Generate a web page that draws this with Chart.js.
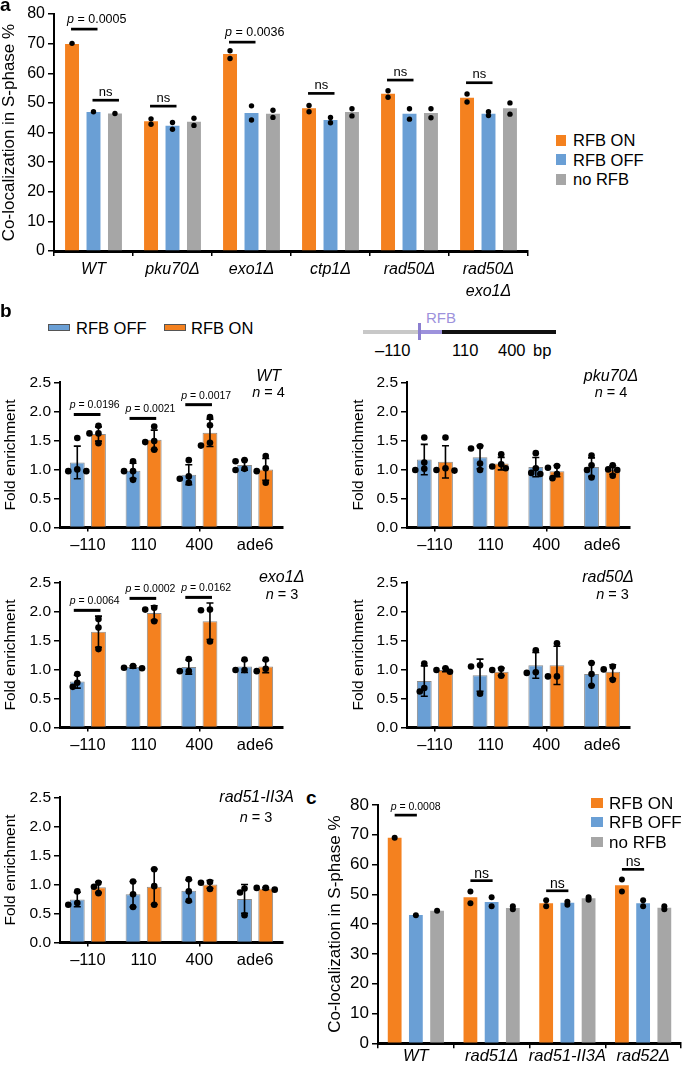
<!DOCTYPE html>
<html>
<head>
<meta charset="utf-8">
<script src="https://cdn.jsdelivr.net/npm/chart.js@4.4.1/dist/chart.umd.min.js"></script>
<style>
  body { margin: 0; background: #fff; }
  #page { position: relative; width: 685px; height: 1068px; overflow: hidden; font-family: 'Liberation Sans', Arial, sans-serif; color: #000; }
  canvas { position: absolute; }
  .t { position: absolute; white-space: nowrap; line-height: 1; }
  .box { position: absolute; }
</style>
</head>
<body>
<div id="page">
  <canvas id="chartA" width="540" height="300" style="left:0;top:0"></canvas>
  <canvas id="chartWT" width="290" height="190" style="left:0;top:370px"></canvas>
  <canvas id="chartPku" width="290" height="190" style="left:347px;top:370px"></canvas>
  <canvas id="chartExo" width="290" height="190" style="left:0;top:570px"></canvas>
  <canvas id="chartRad50" width="290" height="190" style="left:347px;top:570px"></canvas>
  <canvas id="chartRad51" width="290" height="190" style="left:0;top:785px"></canvas>
  <canvas id="chartC" width="365" height="278" style="left:320px;top:790px"></canvas>
</div>
<script>
var FONT = "'Liberation Sans', Arial, sans-serif";
var ORANGE = '#F4811F', BLUE = '#6A9FD5', GRAY = '#A6A6A6';

// ---- panel a: co-localization in S-phase (%)
var aStrains = ['WT', 'pku70\u0394', 'exo1\u0394', 'ctp1\u0394', 'rad50\u0394', ['rad50\u0394', 'exo1\u0394']];
var aRfbOn = [69.9, 43.8, 66.5, 48.2, 53.1, 51.7];
var aRfbOff = [46.9, 42.3, 46.6, 44.2, 46.3, 46.3];
var aNoRfb = [46.4, 43.6, 46.3, 46.9, 46.6, 48.2];
var aRfbOnDots = [[70.1], [42.8, 44.6], [67.6, 65.0], [49.1, 47.0], [54.1, 51.9], [53.0, 50.3]];
var aRfbOffDots = [[47.0], [43.4, 41.1], [49.0, 44.2], [45.1, 43.3], [48.0, 44.5], [47.0, 45.7]];
var aNoRfbDots = [[46.4], [44.8, 42.4], [47.5, 45.1], [48.0, 45.6], [48.0, 45.0], [50.0, 46.2]];
var aSigCats = [0, 0, 1, 2, 3, 4, 5];
var aSigPairs = [[0, 1], [1, 2], [0, 1], [0, 1], [0, 1], [0, 1], [0, 1]];
var aSigLevels = [74.9, 50.9, 48.9, 70.5, 53.2, 57.7, 56.8];
var aSigLabels = ['p = 0.0005', 'ns', 'ns', 'p = 0.0036', 'ns', 'ns', 'ns'];

// ---- panel b: fold enrichment per site
var bSites = ['\u2013110', '110', '400', 'ade6'];

var bWtOff = [1.12, 0.975, 0.91, 1.075];
var bWtOn = [1.61, 1.51, 1.63, 1.0];
var bWtOffDots = [[1.54, 0.97, 1.0, 0.97], [1.14, 0.97, 0.97, 0.82], [1.16, 0.88, 0.84, 0.77], [1.16, 1.14, 1.01, 0.99]];
var bWtOnDots = [[1.75, 1.62, 1.62, 1.45], [1.74, 1.49, 1.47, 1.34], [1.90, 1.76, 1.46, 1.41], [1.23, 1.02, 0.97, 0.77]];
var bWtSigLevels = [1.946, 1.878, 2.115];
var bWtSigLabels = ['p = 0.0196', 'p = 0.0021', 'p = 0.0017'];

var bPkuOff = [1.17, 1.21, 1.04, 1.04];
var bPkuOn = [1.13, 1.10, 0.97, 0.99];
var bPkuOffDots = [[1.55, 1.12, 1.01, 0.99], [1.40, 1.36, 1.10, 0.99], [1.28, 1.02, 0.94, 0.92], [1.24, 1.07, 0.99, 0.86]];
var bPkuOnDots = [[1.55, 1.02, 0.99, 0.98], [1.26, 1.09, 1.05, 1.02], [1.06, 1.03, 0.92, 0.85], [1.07, 1.0, 0.99, 0.89]];

var bExoOff = [0.79, 1.04, 1.04, 1.05];
var bExoOn = [1.65, 1.97, 1.83, 1.05];
var bExoOffDots = [[0.92, 0.77, 0.70], [1.06, 1.03, 1.02], [1.18, 0.97, 0.97], [1.17, 0.99, 0.99]];
var bExoOnDots = [[1.87, 1.72, 1.35], [2.06, 2.03, 1.83], [2.03, 2.02, 1.48], [1.17, 1.01, 0.97]];
var bExoSigLevels = [2.017, 2.223, 2.24];
var bExoSigLabels = ['p = 0.0064', 'p = 0.0002', 'p = 0.0162'];

var bRad50Off = [0.80, 0.90, 1.07, 0.92];
var bRad50On = [0.99, 0.96, 1.07, 0.96];
var bRad50OffDots = [[1.10, 0.68, 0.62], [1.07, 1.05, 0.58], [1.33, 0.95, 0.94], [1.11, 0.92, 0.72]];
var bRad50OnDots = [[1.02, 0.99, 0.96], [1.01, 0.99, 0.89], [1.45, 0.88, 0.88], [1.05, 1.0, 0.82]];

var bRad51Off = [0.74, 0.83, 0.89, 0.75];
var bRad51On = [0.95, 0.96, 1.0, 0.93];
var bRad51OffDots = [[0.88, 0.68, 0.65], [1.05, 0.83, 0.61], [1.09, 0.88, 0.72], [0.93, 0.86, 0.47]];
var bRad51OnDots = [[1.03, 0.96, 0.85], [1.26, 0.97, 0.65], [1.04, 1.03, 0.92], [0.94, 0.94, 0.91]];

// ---- panel c: co-localization in S-phase (%)
var cStrains = ['WT', 'rad51\u0394', 'rad51-II3A', 'rad52\u0394'];
var cRfbOn = [69.0, 49.0, 47.0, 53.1];
var cRfbOff = [43.1, 47.4, 47.2, 47.0];
var cNoRfb = [44.5, 45.4, 48.7, 45.5];
var cRfbOnDots = [[69.0], [51.0, 47.0], [48.0, 46.0], [55.0, 51.0]];
var cRfbOffDots = [[43.0], [49.0, 46.0], [46.5, 47.5], [48.0, 46.0]];
var cNoRfbDots = [[44.5], [46.0, 45.0], [49.0, 48.2], [46.0, 45.0]];
var cSigCats = [0, 1, 2, 3];
var cSigLevels = [76.6, 54.6, 51.2, 58.4];
var cSigLabels = ['p = 0.0008', 'ns', 'ns', 'ns'];

Chart.defaults.font.family = FONT;
Chart.defaults.color = '#000';

function stdev(v) {
  var m = 0, s = 0;
  v.forEach(function (x) { m += x; });
  m /= v.length;
  v.forEach(function (x) { s += (x - m) * (x - m); });
  return Math.sqrt(s / (v.length - 1));
}

// draws error bars (SD of replicates), replicate dots and significance bars
var marksPlugin = {
  id: 'marks',
  afterDatasetsDraw: function (chart) {
    var o = chart.options.plugins.marks;
    var ctx = chart.ctx;
    var yScale = chart.scales.y;
    ctx.save();
    chart.data.datasets.forEach(function (ds, d) {
      var meta = chart.getDatasetMeta(d);
      meta.data.forEach(function (bar, i) {
        var pts = o.dots[d][i];
        if (o.errorBars && pts.length > 1) {
          var sd = stdev(pts);
          var yTop = yScale.getPixelForValue(ds.data[i] + sd);
          var yBot = yScale.getPixelForValue(ds.data[i] - sd);
          ctx.strokeStyle = '#000';
          ctx.lineWidth = 1.6;
          ctx.beginPath();
          ctx.moveTo(bar.x, yTop); ctx.lineTo(bar.x, yBot);
          ctx.moveTo(bar.x - 3.5, yTop); ctx.lineTo(bar.x + 3.5, yTop);
          ctx.moveTo(bar.x - 3.5, yBot); ctx.lineTo(bar.x + 3.5, yBot);
          ctx.stroke();
        }
        var placed = [];
        var offs = [0, -o.step, o.step, -2 * o.step, 2 * o.step];
        pts.slice().sort(function (p, q) { return q - p; }).forEach(function (v) {
          var py = yScale.getPixelForValue(v);
          var ox = 0;
          for (var k = 0; k < offs.length; k++) {
            var ok = placed.every(function (p) { return Math.hypot(p.x - offs[k], p.y - py) >= o.gap; });
            if (ok) { ox = offs[k]; break; }
          }
          placed.push({ x: ox, y: py });
          ctx.fillStyle = '#000';
          ctx.beginPath();
          ctx.arc(bar.x + ox, py, o.r, 0, Math.PI * 2);
          ctx.fill();
        });
      });
    });
    var s = o.sig;
    if (s) {
      s.cats.forEach(function (cat, k) {
        var pair = s.pairs[k];
        var xa = chart.getDatasetMeta(pair[0]).data[cat].x + o.sigDx[0];
        var xb = chart.getDatasetMeta(pair[1]).data[cat].x + o.sigDx[1];
        var yy = yScale.getPixelForValue(s.levels[k]);
        ctx.strokeStyle = '#000';
        ctx.lineWidth = o.sigWidth;
        ctx.beginPath(); ctx.moveTo(xa, yy); ctx.lineTo(xb, yy); ctx.stroke();
        var text = s.labels[k];
        ctx.fillStyle = '#000';
        ctx.textBaseline = 'middle';
        if (text.charAt(0) === 'p') {
          var x0 = xa - 4, ty = yy - o.pUp;
          ctx.textAlign = 'left';
          ctx.font = 'italic ' + o.pSize + 'px ' + FONT;
          ctx.fillText('p', x0, ty);
          var w = ctx.measureText('p').width;
          ctx.font = o.pSize + 'px ' + FONT;
          ctx.fillText(text.slice(1), x0 + w, ty);
        } else {
          ctx.textAlign = 'center';
          ctx.font = o.nsSize + 'px ' + FONT;
          ctx.fillText(text, (xa + xb) / 2, yy - o.nsUp);
        }
      });
    }
    ctx.restore();
  }
};

function barChart(id, o) {
  return new Chart(document.getElementById(id), {
    type: 'bar',
    data: { labels: o.labels, datasets: o.datasets },
    options: {
      responsive: false,
      animation: false,
      devicePixelRatio: 1,
      layout: { padding: o.padding },
      datasets: { bar: { categoryPercentage: o.catPct, barPercentage: o.barPct } },
      plugins: { legend: { display: false }, tooltip: { enabled: false }, marks: o.marks },
      scales: {
        x: {
          offset: true,
          grid: { offset: o.xGridOffset, drawOnChartArea: false, drawTicks: true, tickLength: o.xTickLen, color: o.xTickColor, lineWidth: 1.5 },
          border: { color: '#000', width: 3 },
          ticks: { font: o.xFont, padding: o.xPad, maxRotation: 0, autoSkip: false },
          afterFit: function (sc) { sc.height = o.xH; }
        },
        y: {
          min: 0,
          max: o.yMax,
          ticks: { stepSize: o.yStep, font: o.yFont, padding: 3, callback: o.yFmt },
          grid: { drawOnChartArea: false, tickLength: 6, color: '#000', lineWidth: 1.5 },
          border: { color: '#000', width: 2 },
          title: { display: true, text: o.yTitle, font: o.yTitleFont, padding: { top: o.yTitlePad, bottom: 0 } },
          afterFit: function (sc) { sc.width = o.yW; }
        }
      }
    },
    plugins: [marksPlugin]
  });
}

// panel a
barChart('chartA', {
  labels: aStrains,
  datasets: [
    { label: 'RFB ON', data: aRfbOn, backgroundColor: ORANGE },
    { label: 'RFB OFF', data: aRfbOff, backgroundColor: BLUE },
    { label: 'no RFB', data: aNoRfb, backgroundColor: GRAY }
  ],
  padding: { left: 0, top: 14, right: 12, bottom: 0 },
  catPct: 0.815, barPct: 0.65,
  xGridOffset: true, xTickLen: 5, xTickColor: '#000', xPad: 3, xH: 49,
  xFont: { size: 16, style: 'italic', lineHeight: 1.35 },
  yMax: 80, yStep: 10, yFont: { size: 16 }, yW: 54,
  yFmt: function (v) { return v; },
  yTitle: 'Co-localization in S-phase %', yTitleFont: { size: 17, lineHeight: 1 }, yTitlePad: 0.5,
  marks: {
    dots: [aRfbOnDots, aRfbOffDots, aNoRfbDots], r: 2.7, gap: 0, step: 4, errorBars: false,
    sig: { cats: aSigCats, pairs: aSigPairs, levels: aSigLevels, labels: aSigLabels },
    sigDx: [-1, 4], sigWidth: 2.7, pSize: 12.5, nsSize: 13, pUp: 10, nsUp: 8
  }
});

// panel b
function foldChart(id, off, on, offDots, onDots, levels, labels, titlePad) {
  var sig = null;
  if (levels) {
    sig = { cats: [0, 1, 2], pairs: [[0, 1], [0, 1], [0, 1]], levels: levels, labels: labels };
  }
  return barChart(id, {
    labels: bSites,
    datasets: [
      { label: 'RFB OFF', data: off, backgroundColor: BLUE, borderColor: '#8c8c8c', borderWidth: 1 },
      { label: 'RFB ON', data: on, backgroundColor: ORANGE, borderColor: '#8c8c8c', borderWidth: 1 }
    ],
    padding: { left: 0, top: 11, right: 7, bottom: 0 },
    catPct: 0.76, barPct: 0.7,
    xGridOffset: false, xTickLen: 4,
    xTickColor: function (c) { return c.index % 2 === 0 ? '#000' : 'rgba(0,0,0,0)'; },
    xPad: 4, xH: 32.5,
    xFont: { size: 16.5 },
    yMax: 2.5, yStep: 0.5, yFont: { size: 15.5 }, yW: 60,
    yFmt: function (v) { return v.toFixed(1); },
    yTitle: 'Fold enrichment', yTitleFont: { size: 15.5, lineHeight: 1 }, yTitlePad: titlePad,
    marks: {
      dots: [offDots, onDots], r: 3.3, gap: 5.5, step: 4.5, errorBars: true,
      sig: sig, sigDx: [-3.5, 2], sigWidth: 3, pSize: 10.5, nsSize: 12, pUp: 9, nsUp: 7
    }
  });
}
foldChart('chartWT', bWtOff, bWtOn, bWtOffDots, bWtOnDots, bWtSigLevels, bWtSigLabels, 3.25);
foldChart('chartPku', bPkuOff, bPkuOn, bPkuOffDots, bPkuOnDots, null, null, 3.5);
foldChart('chartExo', bExoOff, bExoOn, bExoOffDots, bExoOnDots, bExoSigLevels, bExoSigLabels, 3.25);
foldChart('chartRad50', bRad50Off, bRad50On, bRad50OffDots, bRad50OnDots, null, null, 3.5);
foldChart('chartRad51', bRad51Off, bRad51On, bRad51OffDots, bRad51OnDots, null, null, 3.25);

// panel c
barChart('chartC', {
  labels: cStrains,
  datasets: [
    { label: 'RFB ON', data: cRfbOn, backgroundColor: ORANGE },
    { label: 'RFB OFF', data: cRfbOff, backgroundColor: BLUE },
    { label: 'no RFB', data: cNoRfb, backgroundColor: GRAY }
  ],
  padding: { left: 0, top: 15, right: 4, bottom: 0 },
  catPct: 0.84, barPct: 0.65,
  xGridOffset: true, xTickLen: 5, xTickColor: '#000', xPad: 0, xH: 24.7,
  xFont: { size: 16.5, style: 'italic', lineHeight: 1 },
  yMax: 80, yStep: 10, yFont: { size: 17 }, yW: 58,
  yFmt: function (v) { return v; },
  yTitle: 'Co-localization in S-phase %', yTitleFont: { size: 17, lineHeight: 1 }, yTitlePad: 6.5,
  marks: {
    dots: [cRfbOnDots, cRfbOffDots, cNoRfbDots], r: 3, gap: 0, step: 4, errorBars: false,
    sig: { cats: cSigCats, pairs: [[0, 1], [0, 1], [0, 1], [0, 1]], levels: cSigLevels, labels: cSigLabels },
    sigDx: [0, 1], sigWidth: 2.7, pSize: 10.5, nsSize: 14, pUp: 8, nsUp: 7
  }
});

// ---- text and keys around the charts
var page = document.getElementById('page');
function put(html, x, y, size, css) {
  var el = document.createElement('div');
  el.className = 't';
  el.innerHTML = html;
  el.style.left = x + 'px';
  el.style.top = y + 'px';
  el.style.fontSize = size + 'px';
  el.style.transform = (css && css.center) ? 'translate(-50%,-50%)' : 'translate(0,-50%)';
  if (css && css.bold) el.style.fontWeight = 'bold';
  if (css && css.italic) el.style.fontStyle = 'italic';
  if (css && css.color) el.style.color = css.color;
  page.appendChild(el);
}
function rect(x, y, w, h, bg, border) {
  var el = document.createElement('div');
  el.className = 'box';
  el.style.left = x + 'px';
  el.style.top = y + 'px';
  el.style.width = w + 'px';
  el.style.height = h + 'px';
  el.style.background = bg;
  if (border) { el.style.border = border; el.style.boxSizing = 'border-box'; }
  page.appendChild(el);
}

// panel letters
put('a', 0, 3.5, 19, { bold: true });
put('b', 0, 309.5, 19, { bold: true });
put('c', 306, 797, 19, { bold: true });

// legend a
rect(555.5, 135, 10.5, 10.5, ORANGE);
rect(555.5, 154.3, 10.5, 10.5, BLUE);
rect(555.5, 174, 10.5, 10.5, GRAY);
put('RFB ON', 573, 140.3, 16.5);
put('RFB OFF', 573, 159.5, 16.5);
put('no RFB', 573, 179.3, 16.5);

// legend b
rect(48, 324, 22, 7, BLUE, '1px solid #555');
put('RFB OFF', 76, 327.5, 16.5);
rect(164, 324, 22, 7, ORANGE, '1px solid #555');
put('RFB ON', 191, 327.5, 16.5);

// locus sketch
rect(363, 329.5, 56, 4.5, '#c8c8c8');
rect(421, 329.5, 21, 4.5, '#9d92dc');
rect(442, 329.5, 114, 4.5, '#111');
rect(418, 323, 3, 17, '#8b7fd0');
put('RFB', 426, 317, 15, { color: '#9d92dc' });
put('\u2013110', 375, 350, 16.5);
put('110', 452, 350, 16.5);
put('400', 498, 350, 16.5);
put('bp', 533, 350, 16.5);

// panel b titles
put('WT', 268.6, 376, 16, { center: true, italic: true });
put('<i>n</i> = 4', 268.6, 392, 14.5, { center: true });
put('pku70\u0394', 611, 376, 16, { center: true, italic: true });
put('<i>n</i> = 4', 611, 392, 14.5, { center: true });
put('exo1\u0394', 281.7, 576.7, 16, { center: true, italic: true });
put('<i>n</i> = 3', 282, 594.3, 14.5, { center: true });
put('rad50\u0394', 608, 576.7, 16, { center: true, italic: true });
put('<i>n</i> = 3', 612.6, 594.3, 14.5, { center: true });
put('rad51-II3A', 256.7, 796.7, 16, { center: true, italic: true });
put('<i>n</i> = 3', 256, 816.7, 14.5, { center: true });

// legend c
rect(591, 797.5, 12, 10, ORANGE);
rect(591, 817.3, 12, 10, BLUE);
rect(591, 837, 12, 10, GRAY);
put('RFB ON', 609, 802.7, 17);
put('RFB OFF', 609, 822.3, 17);
put('no RFB', 609, 842, 17);
</script>
</body>
</html>
